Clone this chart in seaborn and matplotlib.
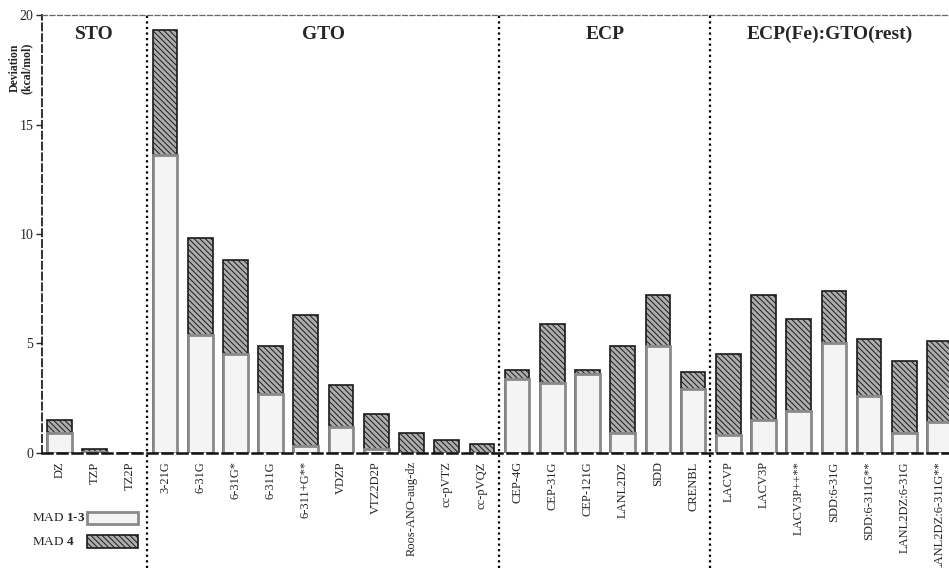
import matplotlib
matplotlib.use("Agg")
import matplotlib.pyplot as plt
import seaborn as sns
import pandas as pd

# basis sets and deviations (kcal/mol)
basis = ["DZ", "TZP", "TZ2P",
         "3-21G", "6-31G", "6-31G*", "6-311G", "6-311+G**", "VDZP", "VTZ2D2P",
         "Roos-ANO-aug-dz", "cc-pVTZ", "cc-pVQZ",
         "CEP-4G", "CEP-31G", "CEP-121G", "LANL2DZ", "SDD", "CRENBL",
         "LACVP", "LACV3P", "LACV3P++**", "SDD:6-31G", "SDD:6-311G**",
         "LANL2DZ:6-31G", "LANL2DZ:6-311G**"]
mad13 = [0.9, 0.05, 0.0,
         13.6, 5.4, 4.5, 2.7, 0.3, 1.2, 0.2,
         0.0, 0.0, 0.0,
         3.4, 3.2, 3.6, 0.9, 4.9, 2.9,
         0.8, 1.5, 1.9, 5.0, 2.6, 0.9, 1.4]
mad4 = [1.5, 0.2, 0.0,
        19.3, 9.8, 8.8, 4.9, 6.3, 3.1, 1.8,
        0.9, 0.6, 0.4,
        3.8, 5.9, 3.8, 4.9, 7.2, 3.7,
        4.5, 7.2, 6.1, 7.4, 5.2, 4.2, 5.1]
groups = ["STO", "GTO", "ECP", "ECP(Fe):GTO(rest)"]
group_sizes = [3, 10, 6, 7]
legend_labels = ["MAD $\\mathbf{1}$-$\\mathbf{3}$", "MAD $\\mathbf{4}$"]

df = pd.DataFrame({"basis": basis, "mad13": mad13, "mad4": mad4})

sns.set_style("white")
plt.rcParams["font.family"] = ["Liberation Serif", "DejaVu Serif"]
plt.rcParams["mathtext.fontset"] = "custom"
plt.rcParams["mathtext.rm"] = "Liberation Serif"
plt.rcParams["mathtext.bf"] = "Liberation Serif:bold"
plt.rcParams["hatch.linewidth"] = 0.7

fig = plt.figure(figsize=(9.49, 5.68), dpi=100)
ax = fig.add_axes([0.044, 0.2025, 0.956, 0.771])

# MAD 4 behind, MAD 1-3 in front
sns.barplot(data=df, x="basis", y="mad4", color="#adadad", saturation=1,
            edgecolor="#1a1a1a", linewidth=1.2, hatch="\\\\\\\\\\\\",
            width=0.7, label="mad4", ax=ax)
sns.barplot(data=df, x="basis", y="mad13", color="#f4f4f4", saturation=1,
            edgecolor="#8a8a8a", linewidth=2.0,
            width=0.7, label="mad13", ax=ax)
if ax.get_legend() is not None:
    ax.get_legend().remove()

ax.set_xlim(-0.5, 25.27)
ax.set_ylim(0, 20)
ax.set_yticks([0, 5, 10, 15, 20])
ax.set_xlabel("")
ax.set_ylabel("")
ax.tick_params(axis="y", direction="out", length=4, width=1, left=True,
               labelsize=10, pad=2)
ax.tick_params(axis="x", length=0, labelsize=9, pad=6)
plt.setp(ax.get_xticklabels(), rotation=90)

for s in ["left", "bottom", "top"]:
    ax.spines[s].set_linestyle((0, (4, 2)))
ax.spines["left"].set_linewidth(1.3)
ax.spines["left"].set_color("#222222")
ax.spines["bottom"].set_linewidth(1.8)
ax.spines["bottom"].set_color("#111111")
ax.spines["top"].set_linewidth(0.9)
ax.spines["top"].set_color("#666666")
ax.spines["right"].set_visible(False)

# group separators and titles
start = 0
for name, n in zip(groups, group_sizes):
    end = start + n
    if start > 0:
        ax.axvline(start - 0.52, ymin=-0.263, ymax=1, color="black",
                   linestyle=(0, (1, 1.5)), linewidth=1.6, clip_on=False)
    right = min(end - 0.5, 25.27)
    cx = (start - 0.5 + right) / 2
    ax.text(cx, 19.1, name, ha="center", va="center", fontsize=14,
            fontweight="bold")
    start = end

fig.text(0.022, 0.88, "Deviation\n(kcal/mol)", rotation=90, ha="center",
         va="center", fontsize=8.5, fontweight="bold", linespacing=1.0)

# legend: boxes from the bar containers, labels on the left
h, _ = ax.get_legend_handles_labels()
leg = fig.legend(h[::-1], ["", ""], loc="upper left",
                 bbox_to_anchor=(0.0917, 0.099), bbox_transform=fig.transFigure,
                 frameon=False, fontsize=10,
                 handlelength=3.7, handleheight=1.0, labelspacing=0.7,
                 borderpad=0, borderaxespad=0, handletextpad=0)
fig.canvas.draw()
for lab, patch in zip(legend_labels, leg.get_patches()):
    bb = patch.get_window_extent()
    yc = (bb.y0 + bb.y1) / 2 / fig.bbox.height
    fig.text(0.034, yc, lab, ha="left", va="center", fontsize=9.5)

fig.savefig("out.png", dpi=100)
